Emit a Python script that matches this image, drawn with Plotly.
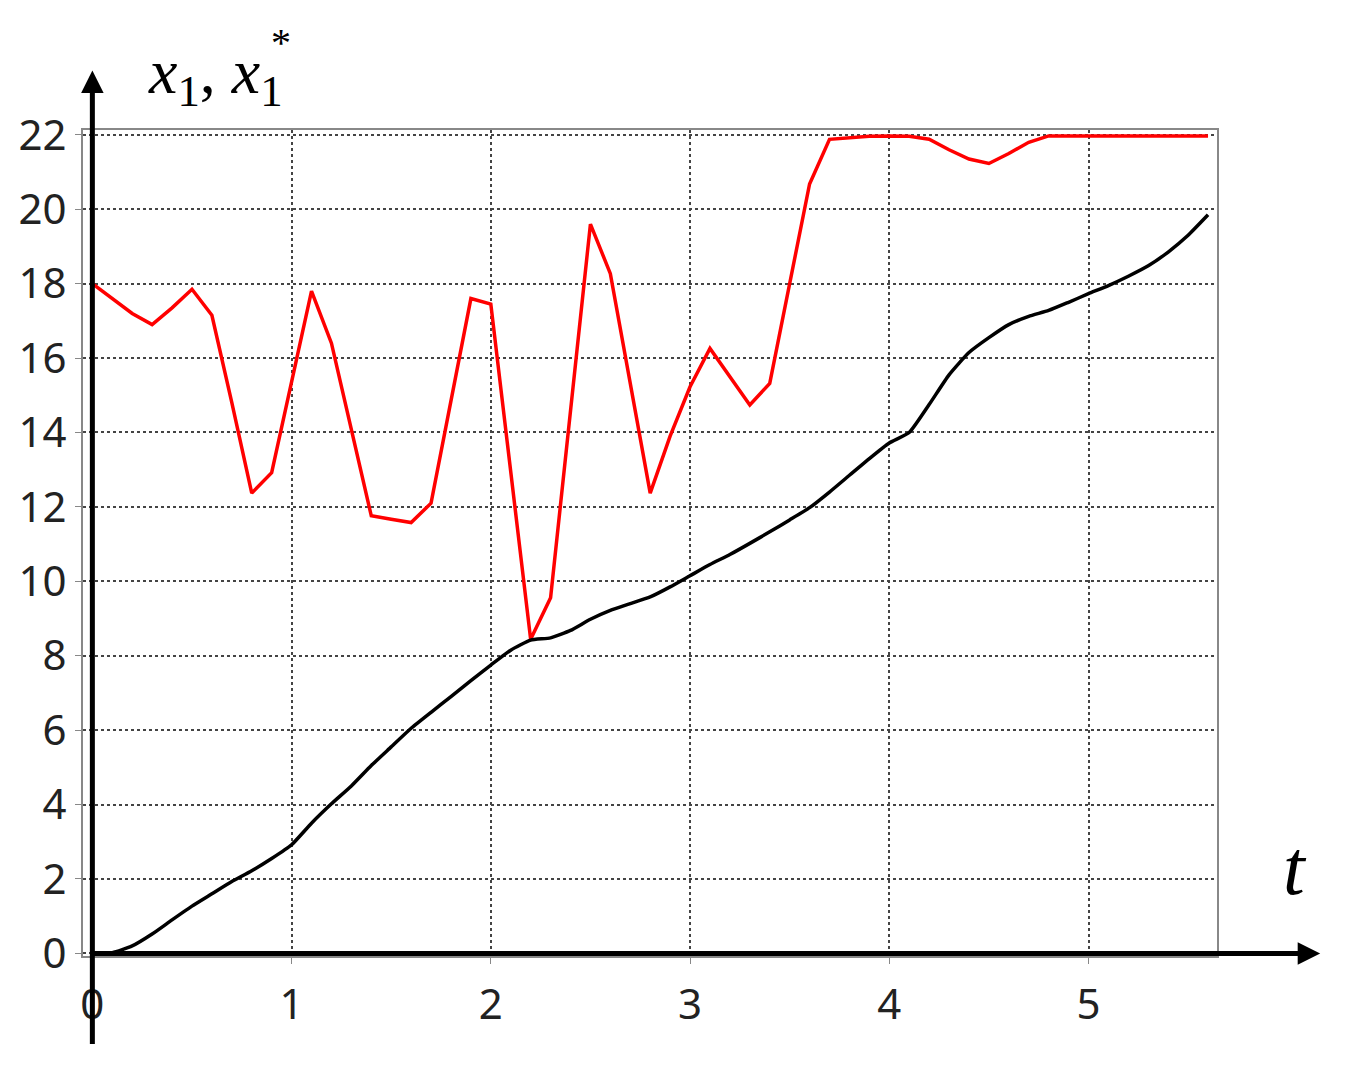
import plotly.graph_objects as go

# time grid (step 0.1)
t = [round(0.1 * i, 1) for i in range(57)]

# x1* (red, piecewise linear)
x1_star = [18.0, 17.6, 17.2, 16.9, 17.35, 17.85, 17.15, 14.8, 12.37, 12.92,
           15.4, 17.8, 16.4, 14.1, 11.76, 11.67, 11.58, 12.1, 14.9, 17.6,
           17.45, 12.95, 8.44, 9.56, 14.5, 19.6, 18.27, 15.3, 12.37, 13.9,
           15.23, 16.26, 15.5, 14.74, 15.32, 18.0, 20.68, 21.88, 21.92, 21.96,
           21.97, 21.96, 21.88, 21.6, 21.35, 21.23, 21.5, 21.8, 21.97, 21.97,
           21.97, 21.97, 21.97, 21.97, 21.97, 21.97, 21.97]

# x1 (black)
x1 = [0.0, 0.02, 0.2, 0.52, 0.9, 1.27, 1.6, 1.93, 2.22, 2.55,
      2.92, 3.5, 4.02, 4.5, 5.05, 5.55, 6.05, 6.48, 6.9, 7.33,
      7.75, 8.15, 8.42, 8.48, 8.68, 8.98, 9.22, 9.4, 9.58, 9.85,
      10.15, 10.45, 10.72, 11.02, 11.33, 11.65, 11.98, 12.4, 12.85, 13.3,
      13.72, 14.0, 14.75, 15.55, 16.15, 16.55, 16.9, 17.12, 17.28, 17.5,
      17.73, 17.95, 18.2, 18.48, 18.85, 19.3, 19.85]

x_ticks = [0, 1, 2, 3, 4, 5]
y_ticks = list(range(0, 23, 2))

fig = go.Figure()
fig.add_trace(go.Scatter(x=t, y=x1_star, mode='lines',
                         line=dict(color='#ff0000', width=3.5), showlegend=False))
fig.add_trace(go.Scatter(x=t, y=x1, mode='lines',
                         line=dict(color='black', width=3.5, shape='spline', smoothing=0.5),
                         showlegend=False))

tick_font = dict(family='Noto Sans', size=42, color='#222')

# page body has an 8px margin, so the figure is a bit smaller than the window
fig.update_layout(
    width=1334, height=1053,
    margin=dict(l=75, r=125, t=122, b=105),
    plot_bgcolor='white', paper_bgcolor='white',
    xaxis=dict(range=[-0.047, 5.645], tickvals=x_ticks, ticktext=[str(v) for v in x_ticks],
               showgrid=True, gridcolor='#444', gridwidth=1.5, griddash='3px,3px',
               zeroline=False, showline=True, mirror=True, linecolor='#888', linewidth=2,
               ticks='outside', ticklen=6, tickcolor='#888', tickfont=tick_font,
               ticklabelstandoff=5),
    yaxis=dict(range=[-0.07, 22.13], tickvals=y_ticks, ticktext=[str(v) for v in y_ticks],
               showgrid=True, gridcolor='#444', gridwidth=1.5, griddash='3px,3px',
               zeroline=False, showline=True, mirror=True, linecolor='#888', linewidth=2,
               ticks='outside', ticklen=6, tickcolor='#888', tickfont=tick_font,
               ticklabelstandoff=0),
)

# thick axis arrows
fig.add_annotation(x=0, y=1.072, xref='x', yref='paper', text='', showarrow=True,
                   ax=0, ay=975, arrowhead=2, arrowwidth=5, arrowsize=0.9, arrowcolor='black')
fig.add_annotation(x=1.091, y=0, xref='paper', yref='y', text='', showarrow=True,
                   ax=-1228, ay=0, arrowhead=2, arrowwidth=5, arrowsize=0.9, arrowcolor='black')

# axis labels
fig.add_annotation(x=0.0556, y=1.0145, xref='paper', yref='paper', xanchor='left', yanchor='bottom',
                   text='<i>x</i><sub>1</sub>,&nbsp;<i>x</i><sub>1</sub>', showarrow=False,
                   font=dict(family='Liberation Serif', size=64, color='black'))
fig.add_annotation(x=0.1746, y=1.1065, xref='paper', yref='paper', xanchor='center', yanchor='middle',
                   text='*', showarrow=False, font=dict(family='Liberation Serif', size=40, color='black'))
fig.add_annotation(x=1.0688, y=0.107, xref='paper', yref='paper', xanchor='center', yanchor='middle',
                   text='<i>t</i>', showarrow=False, font=dict(family='Liberation Serif', size=78, color='black'))

fig.write_html("out.html")
